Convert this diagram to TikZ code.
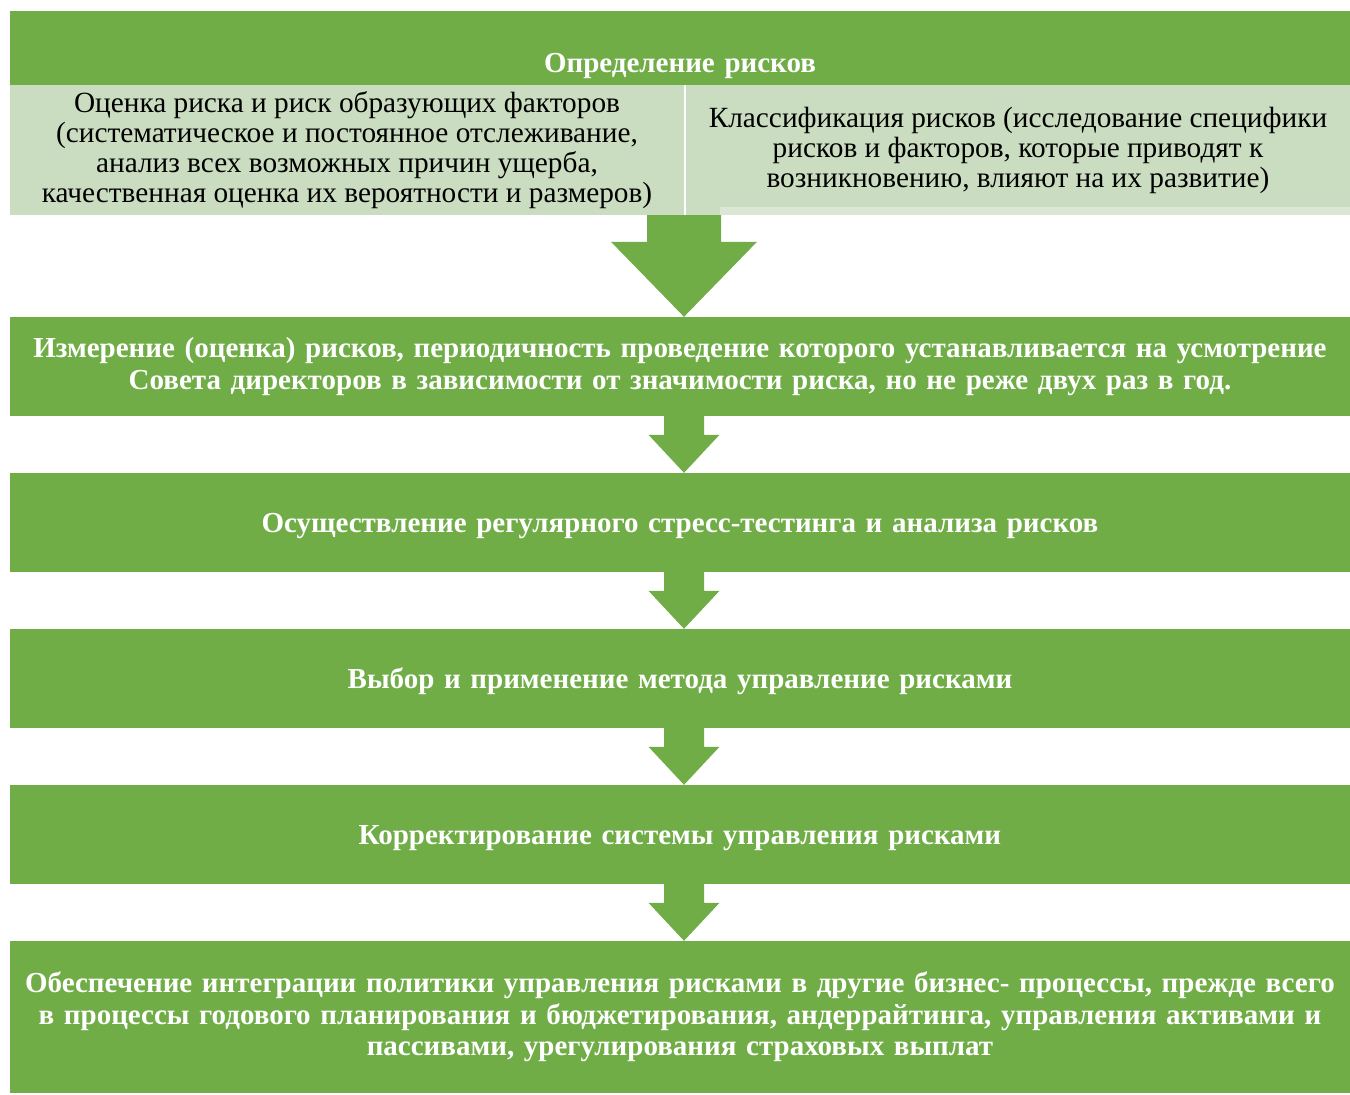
\documentclass[tikz,border=0pt]{standalone}
\usepackage{fontspec}
\setmainfont{Liberation Serif}
\usetikzlibrary{positioning, calc}
\definecolor{boxgreen}{RGB}{112,173,71}
\definecolor{palegreen}{RGB}{203,221,192}
\definecolor{stripgreen}{RGB}{219,231,212}
% block arrow: from, to, shaft half width, head half width, head length
\newcommand{\flowarrow}[5]{%
  \fill[boxgreen] ($(axis |- #1.south)+(-#3,0)$) -- ($(axis |- #2.north)+(-#3,-#5)$)
    -- ($(axis |- #2.north)+(-#4,-#5)$) -- (axis |- #2.north)
    -- ($(axis |- #2.north)+(#4,-#5)$) -- ($(axis |- #2.north)+(#3,-#5)$)
    -- ($(axis |- #1.south)+(#3,0)$) -- cycle;
}
\begin{document}
\begin{tikzpicture}
      [
        x=1pt, y=-1pt,
        stepbox/.style={fill=boxgreen, minimum width=1340pt, inner sep=0pt,
          text width=1340pt, align=center, text=white,
          font=\fontsize{29}{31.5}\selectfont\bfseries},
        onerow/.style={stepbox, minimum height=99pt, text depth=0pt},
        subbox/.style={fill=palegreen, minimum height=130pt, inner sep=0pt,
          align=center, font=\fontsize{29.3}{30}\selectfont}
      ]
      \useasboundingbox (0,0) rectangle (1350,1095);
      \coordinate (axis) at (684,0);
      % definition
      \node [stepbox, text height=61pt, text depth=13pt] (define) at (680,48) {Определение рисков};
      \node [subbox, minimum width=674pt] (assess) at (347,150)
        {Оценка риска и риск образующих факторов\\(систематическое и постоянное отслеживание,\\анализ всех возможных причин ущерба,\\качественная оценка их вероятности и размеров)};
      \node [subbox, minimum width=664pt] (classify) at (1018,150)
        {Классификация рисков (исследование специфики\\рисков и факторов, которые приводят к\\возникновению, влияют на их развитие)};
      \fill[stripgreen] (720,207) rectangle (1350,215);
      % steps
      \node [stepbox, minimum height=99pt] (measure) at (680,366.5)
        {Измерение (оценка) рисков, периодичность проведение которого устанавливается на усмотрение\\Совета директоров в зависимости от значимости риска, но не реже двух раз в год.};
      \node [onerow] (stress) at (680,522.5)
        {Осуществление регулярного стресс-тестинга и анализа рисков};
      \node [onerow] (method) at (680,678.5)
        {Выбор и применение метода управление рисками};
      \node [onerow] (adjust) at (680,834.5)
        {Корректирование системы управления рисками};
      \node [stepbox, minimum height=152pt] (integrate) at (680,1017)
        {Обеспечение интеграции политики управления рисками в другие бизнес- процессы, прежде всего\\в процессы годового планирования и бюджетирования, андеррайтинга, управления активами и\\пассивами, урегулирования страховых выплат};
      % arrows
      \flowarrow{assess}{measure}{37}{73}{75}
      \flowarrow{measure}{stress}{20}{35.5}{38}
      \flowarrow{stress}{method}{20}{35.5}{38}
      \flowarrow{method}{adjust}{20}{35.5}{38}
      \flowarrow{adjust}{integrate}{20}{35.5}{38}
    \end{tikzpicture}
\end{document}
